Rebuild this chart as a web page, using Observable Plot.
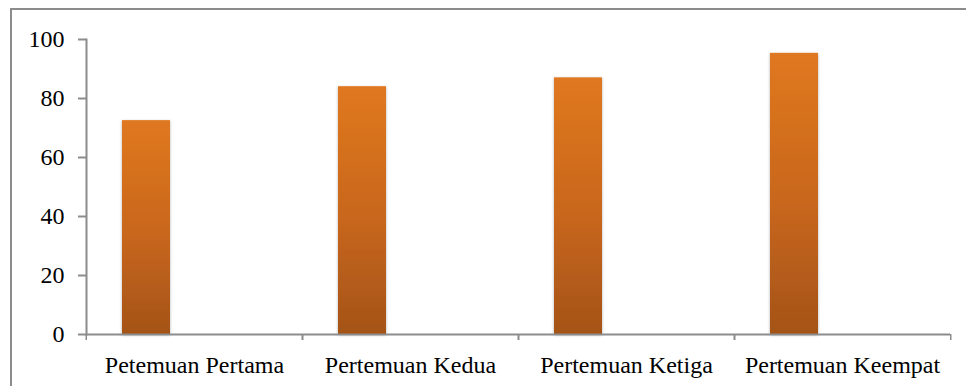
<!DOCTYPE html>
<html><head><meta charset="utf-8">
<script src="https://cdn.jsdelivr.net/npm/d3@7"></script>
<script src="https://cdn.jsdelivr.net/npm/@observablehq/plot@0.6"></script>
<style>body{margin:0;background:#fff} #chart{position:relative;width:966px;height:386px;overflow:hidden}</style>
</head><body><div id="chart"></div>
<script>
const categories = ["Petemuan Pertama", "Pertemuan Kedua", "Pertemuan Ketiga", "Pertemuan Keempat"];
const seriesNames = ["Series 1", "Series 2", "Series 3"];
const series1 = [72.5, 84, 87, 95.3];
const yTicks = [0, 20, 40, 60, 80, 100];

const data = categories.map((c, i) => ({category: c, series: seriesNames[0], value: series1[i]}));

const W = 966, H = 386, mL = 85, mR = 15, mT = 39, mB = 52;
const bw = (W - mL - mR) / categories.length;
const grey = "#8c8c8c";

const plot = Plot.plot({
  width: W, height: H, marginLeft: mL, marginRight: mR, marginTop: mT, marginBottom: mB,
  style: {fontFamily: "'Liberation Serif', 'Times New Roman', serif", fontSize: "24px", color: "#000", background: "transparent", overflow: "visible"},
  fx: {domain: categories, padding: 0, label: null},
  x: {domain: seriesNames, paddingInner: 0, paddingOuter: 0.75, axis: null},
  y: {domain: [0, 100], label: null},
  marks: [
    Plot.barY(data, {fx: "category", x: "series", y: "value", fill: "url(#barGrad)"}),
    Plot.ruleY([0], {stroke: grey, strokeWidth: 2}),
    Plot.frame({anchor: "left", stroke: grey, strokeWidth: 2, facetAnchor: "left"}),
    Plot.axisY(yTicks, {tickSize: 8, tickPadding: 14, stroke: grey, strokeWidth: 2, fill: "#000", fontSize: 24, label: null}),
    Plot.axisFx({anchor: "bottom", tickSize: 0, tickPadding: 21, label: null, fill: "#000", fontSize: 24}),
    Plot.axisFx({anchor: "bottom", tickSize: 6, fill: "none", dx: -bw / 2, stroke: grey, strokeWidth: 1.5, label: null}),
    Plot.axisFx({anchor: "bottom", tickSize: 6, fill: "none", dx: bw / 2, stroke: grey, strokeWidth: 1.5, label: null})
  ]
});

const svg = d3.select(plot);
const defs = svg.insert("defs", ":first-child");
const g = defs.append("linearGradient").attr("id", "barGrad").attr("x1", 0).attr("y1", 0).attr("x2", 0).attr("y2", 1);
g.append("stop").attr("offset", "0%").attr("stop-color", "#E07820");
g.append("stop").attr("offset", "55%").attr("stop-color", "#C7661D");
g.append("stop").attr("offset", "100%").attr("stop-color", "#A45318");
const f = defs.append("filter").attr("id", "shadow").attr("x", "-20%").attr("y", "-10%").attr("width", "140%").attr("height", "120%");
f.append("feDropShadow").attr("dx", 0).attr("dy", 1).attr("stdDeviation", 1.5).attr("flood-color", "#000").attr("flood-opacity", 0.3);
svg.selectAll("g[aria-label='bar'] rect").attr("filter", "url(#shadow)");
svg.append("rect").attr("x", 11).attr("y", 9).attr("width", 2000).attr("height", 2000)
  .attr("fill", "none").attr("stroke", grey).attr("stroke-width", 2);

document.getElementById("chart").appendChild(plot);
</script>
</body></html>
